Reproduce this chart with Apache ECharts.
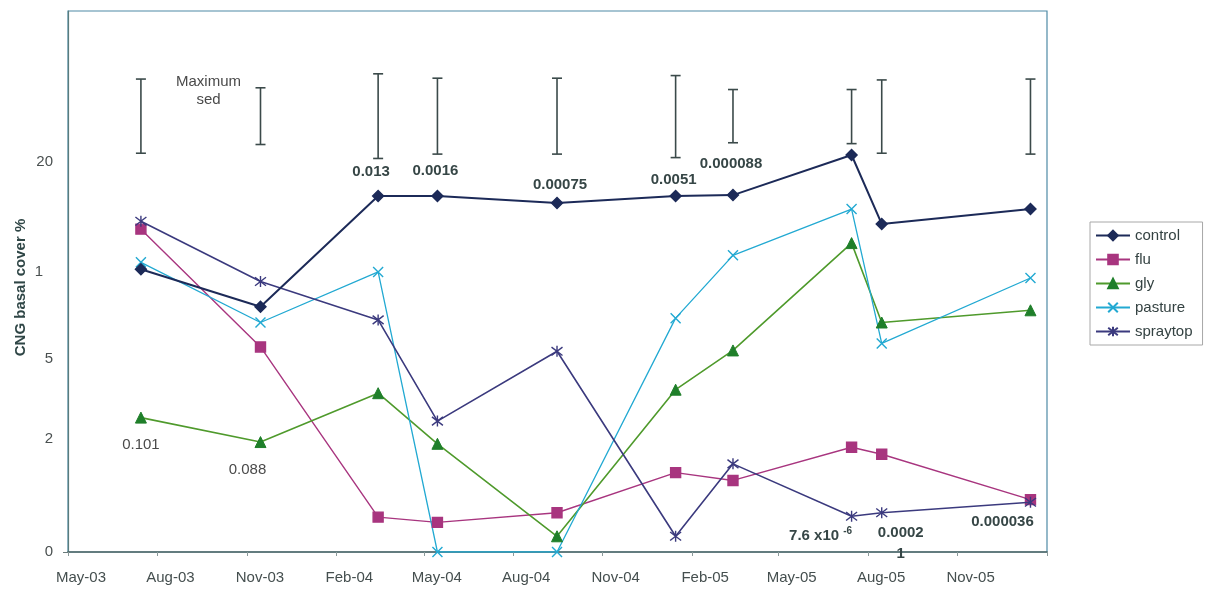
<!DOCTYPE html>
<html>
<head>
<meta charset="utf-8">
<script src="https://cdn.jsdelivr.net/npm/echarts@6/dist/echarts.min.js"></script>
<style>
  html, body { margin: 0; padding: 0; background: #ffffff; }
  #chart { width: 1205px; height: 589px; }
</style>
</head>
<body>
<div id="chart"></div>
<script>
// Survey dates (mid-month)
const sampleDates = ['2003-07-15', '2003-11-15', '2004-03-15', '2004-05-15', '2004-09-15',
                     '2005-01-15', '2005-03-15', '2005-07-15', '2005-08-15', '2006-01-15'];

// CNG basal cover per treatment, on the transformed cover scale of the y axis
const control  = [3.24, 2.81, 4.08, 4.08, 4.00, 4.08, 4.09, 4.55, 3.76, 3.93];
const flu      = [3.70, 2.35, 0.40, 0.34, 0.45, 0.91, 0.82, 1.20, 1.12, 0.60];
const gly      = [1.54, 1.26, 1.82, 1.24, 0.18, 1.86, 2.31, 3.54, 2.63, 2.77];
const pasture  = [3.32, 2.63, 3.21, 0.00, 0.00, 2.68, 3.40, 3.93, 2.39, 3.14];
const spraytop = [3.79, 3.10, 2.66, 1.50, 2.30, 0.18, 1.01, 0.41, 0.45, 0.57];

// Maximum s.e.d. bars for each survey
const sedLow  = [4.57, 4.67, 4.51, 4.56, 4.56, 4.52, 4.69, 4.68, 4.57, 4.56];
const sedHigh = [5.42, 5.32, 5.48, 5.43, 5.43, 5.46, 5.30, 5.30, 5.41, 5.42];
const sedNote = [null, 'Maximum\nsed', null, null, null, null, null, null, null, null];

// P values shown beside the treatment lines
const pControl  = [null, null, '0.013', '0.0016', '0.00075', '0.0051', '0.000088', null, null, null];
const pSpraytop = [null, null, null, null, null, null, null, '7.6 x10 {sup|-6}', '0.0002\n1', '0.000036'];
const pGly      = ['0.101', '0.088', null, null, null, null, null, null, null, null];

// Y axis tick labels and where they sit on the plotted scale
const yTickValues = [0, 1.3, 2.21, 3.21, 4.47];
const yTickLabels = ['0', '2', '5', '1', '20'];

// X axis ticks (quarterly) and labelled months
const xTickDates  = ['2003-05-01', '2003-08-01', '2003-11-01', '2004-02-01', '2004-05-01', '2004-08-01',
                     '2004-11-01', '2005-02-01', '2005-05-01', '2005-08-01', '2005-11-01', '2006-02-01'];
const xLabelDates = xTickDates.slice(0, 11);

const MONTHS = ['Jan', 'Feb', 'Mar', 'Apr', 'May', 'Jun', 'Jul', 'Aug', 'Sep', 'Oct', 'Nov', 'Dec'];
function toTime(s) {
  const p = s.split('-').map(Number);
  return new Date(p[0], p[1] - 1, p[2]).getTime();
}

const FONT = 'Liberation Sans, Arial, sans-serif';
const TEXT_DARK = '#364646';

// label placement for the p values, relative to the point they describe
const controlLabelOffset  = { 2: [-7, -24], 3: [-2, -25], 4: [3, -18], 5: [-2, -16], 6: [-2, -31] };
const spraytopLabelOffset = { 7: [-31, 20], 8: [19, 31], 9: [-28, 20] };
const glyLabelOffset      = { 0: [0, 27], 1: [-13, 28] };

function buildData(values, notes, offsets, bold) {
  return values.map((v, i) => {
    const item = { value: [toTime(sampleDates[i]), v] };
    if (notes && notes[i]) {
      item.label = {
        show: true,
        position: 'inside',
        offset: offsets[i],
        formatter: notes[i],
        fontFamily: FONT,
        fontSize: 15,
        fontWeight: bold ? 'bold' : 'normal',
        color: bold ? TEXT_DARK : '#4a4a4a',
        align: 'center',
        verticalAlign: 'middle',
        lineHeight: 21,
        rich: {
          sup: { fontSize: 10, fontWeight: 'bold', color: TEXT_DARK, padding: [0, 0, 10, 0], fontFamily: FONT }
        }
      };
    }
    return item;
  });
}

const crossPath = 'path://M0,0L10,10M10,0L0,10';
const starPath = 'path://M0,0L10,10M10,0L0,10M5,-1.5L5,11.5';

function lineSeries(name, values, color, symbol, size, width, extra) {
  return Object.assign({
    name: name,
    type: 'line',
    data: values,
    symbol: symbol,
    symbolSize: size,
    lineStyle: { color: color, width: width },
    itemStyle: { color: color, borderColor: color, borderWidth: 1.4 },
    z: 3
  }, extra || {});
}

const chart = echarts.init(document.getElementById('chart'), null, { renderer: 'canvas' });

chart.setOption({
  animation: false,
  backgroundColor: '#ffffff',
  textStyle: { fontFamily: FONT },
  grid: {
    left: 68, right: 158, top: 11, bottom: 37,
    show: true, borderColor: '#4f8aa6', borderWidth: 1.2, backgroundColor: 'transparent'
  },
  legend: {
    orient: 'vertical',
    left: 1090,
    top: 222,
    padding: [6, 10, 6, 5],
    itemWidth: 34,
    itemHeight: 12,
    itemGap: 9,
    borderColor: '#a8a8a8',
    borderWidth: 1,
    textStyle: { fontFamily: FONT, fontSize: 15, color: '#344242' },
    data: ['control', 'flu', 'gly', 'pasture', 'spraytop']
  },
  xAxis: {
    type: 'value',
    min: toTime('2003-05-01'),
    max: toTime('2006-02-01'),
    axisLine: { show: true, lineStyle: { color: '#4d6464', width: 1.6 } },
    axisTick: {
      show: true, length: 4, inside: false,
      customValues: xTickDates.map(toTime),
      lineStyle: { color: '#8a9a9a' }
    },
    axisLabel: {
      customValues: xLabelDates.map(toTime),
      margin: 18,
      fontFamily: FONT,
      fontSize: 15,
      color: '#454f4f',
      padding: [0, 0, 0, 26],
      formatter: function (val) {
        const d = new Date(val);
        return MONTHS[d.getMonth()] + '-' + String(d.getFullYear()).slice(2);
      }
    },
    splitLine: { show: false }
  },
  yAxis: {
    type: 'value',
    min: 0,
    max: 6.2,
    name: 'CNG basal cover %',
    nameLocation: 'middle',
    nameRotate: 90,
    nameGap: 40,
    nameMoveOverlap: false,
    nameTextStyle: { fontFamily: FONT, fontSize: 15, fontWeight: 'bold', color: '#2f4646', padding: [0, 0, 0, -12] },
    axisLine: { show: true, lineStyle: { color: '#5a7c7c', width: 1.2 } },
    axisTick: { show: true, length: 5, customValues: [0], lineStyle: { color: '#6a7a7a' } },
    axisLabel: {
      customValues: yTickValues,
      margin: 15,
      fontFamily: FONT,
      fontSize: 15,
      color: '#4a5050',
      formatter: function (val) {
        let idx = 0, best = Infinity;
        yTickValues.forEach((t, i) => { const d = Math.abs(t - val); if (d < best) { best = d; idx = i; } });
        const txt = yTickLabels[idx];
        return txt === '1' ? '{short|1}' : txt;
      },
      rich: { short: { fontFamily: FONT, fontSize: 15, color: '#4a5050', padding: [0, 10, 0, 0] } }
    },
    splitLine: { show: false }
  },
  series: [
    {
      name: 'sed',
      type: 'custom',
      data: sampleDates.map((d, i) => [toTime(d), sedLow[i], sedHigh[i], i]),
      z: 2,
      renderItem: function (params, api) {
        const lo = api.coord([api.value(0), api.value(1)]);
        const hi = api.coord([api.value(0), api.value(2)]);
        const cap = 5;
        const st = { stroke: '#3b4a4a', lineWidth: 1.6 };
        const children = [
          { type: 'line', shape: { x1: lo[0], y1: lo[1], x2: hi[0], y2: hi[1] }, style: st },
          { type: 'line', shape: { x1: lo[0] - cap, y1: lo[1], x2: lo[0] + cap, y2: lo[1] }, style: st },
          { type: 'line', shape: { x1: hi[0] - cap, y1: hi[1], x2: hi[0] + cap, y2: hi[1] }, style: st }
        ];
        const note = sedNote[api.value(3)];
        if (note) {
          children.push({
            type: 'text',
            x: lo[0] - 52,
            y: (lo[1] + hi[1]) / 2 - 25,
            style: {
              text: note, fontFamily: FONT, fontSize: 15, fill: '#4a4a4a',
              align: 'center', verticalAlign: 'middle', lineHeight: 18
            }
          });
        }
        return { type: 'group', children: children };
      }
    },
    lineSeries('control', buildData(control, pControl, controlLabelOffset, true), '#1c2a58', 'diamond', 11, 2, { z: 5 }),
    lineSeries('flu', buildData(flu), '#a8357f', 'rect', 10, 1.4),
    lineSeries('gly', buildData(gly, pGly, glyLabelOffset, false), '#4f9a2c', 'triangle', 11, 1.6,
      { itemStyle: { color: '#1f7f2a', borderColor: '#1f7f2a', borderWidth: 1 } }),
    lineSeries('pasture', buildData(pasture), '#22a9d2', crossPath, 10, 1.3),
    lineSeries('spraytop', buildData(spraytop, pSpraytop, spraytopLabelOffset, true), '#3b3a7e', starPath, 11, 1.6, { z: 4 })
  ]
});
</script>
</body>
</html>
